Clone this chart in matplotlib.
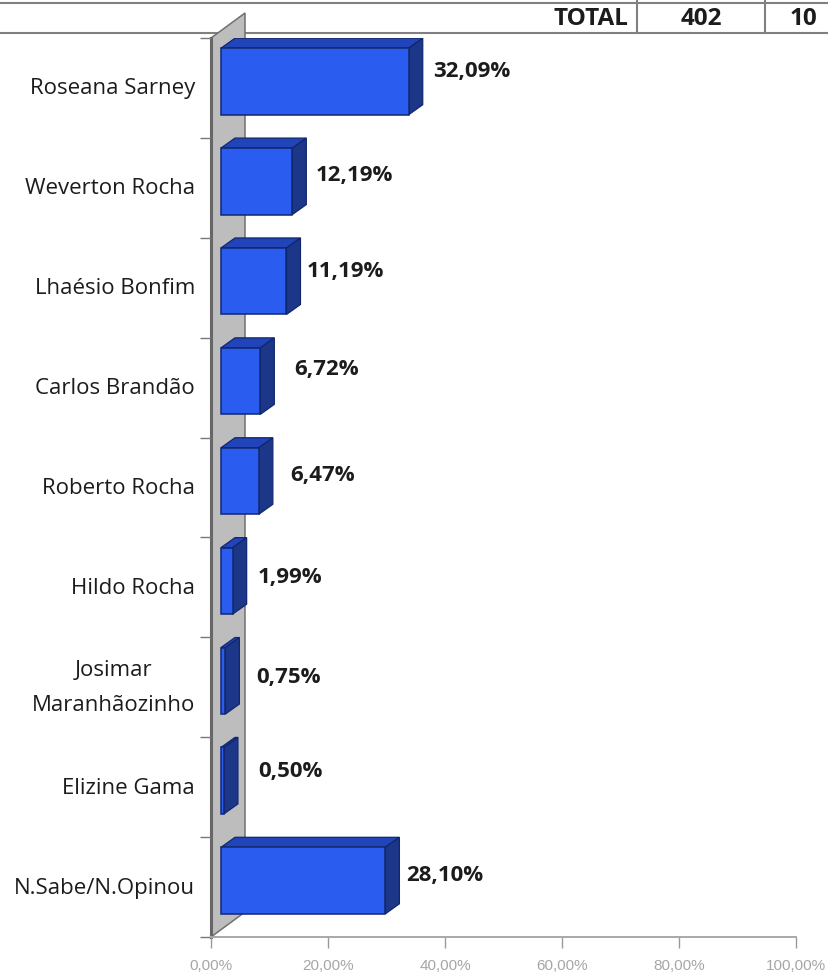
#!/usr/bin/env python3
# horizontal pseudo-3D bars, with the cut off table row on top
import matplotlib
matplotlib.use('Agg')
import matplotlib.pyplot as plt
from matplotlib.patches import Polygon

names = ['Roseana Sarney', 'Weverton Rocha', 'Lhaésio Bonfim', 'Carlos Brandão',
         'Roberto Rocha', 'Hildo Rocha', 'Josimar\nMaranhãozinho', 'Elizine Gama',
         'N.Sabe/N.Opinou']
values = [32.09, 12.19, 11.19, 6.72, 6.47, 1.99, 0.75, 0.50, 28.10]
value_labels = ['32,09%', '12,19%', '11,19%', '6,72%', '6,47%', '1,99%', '0,75%', '0,50%', '28,10%']
x_ticks = [0, 20, 40, 60, 80, 100]
x_tick_labels = ['0,00%', '20,00%', '40,00%', '60,00%', '80,00%', '100,00%']

# hand placed label spots, pixels in the image (left edge, middle)
label_x = [433, 316, 307, 294, 290, 258, 256, 258, 406]
label_y = [71, 175, 272, 369, 475, 578, 677, 771, 876]

W, H = 829, 973
FONT = 'Open Sans'
INK = '#1c1c1c'

fig = plt.figure(figsize=(W / 100, H / 100), dpi=100)

# page layer in pixel units, for table and wall
page = fig.add_axes([0, 0, 1, 1], zorder=1)
page.set_xlim(0, W)
page.set_ylim(H, 0)
page.axis('off')

LEFT, RIGHT, TOP, BOTTOM = 211, 796, 38, 937
ax = fig.add_axes([LEFT / W, 1 - BOTTOM / H, (RIGHT - LEFT) / W, (BOTTOM - TOP) / H], zorder=2)
ax.patch.set_alpha(0)
ax.set_xlim(0, 100)
ax.set_ylim(len(names), 0)

# table rests
for y in (3, 33):
    page.plot([0, W], [y, y], color='#808080', lw=1.5, zorder=1)
for x in (637, 765):
    page.plot([x, x], [0, 33], color='#808080', lw=1.5, zorder=1)
page.text(628, 19, 'TOTAL', ha='right', va='center', fontsize=17.5, fontweight='bold',
          family=FONT, color=INK)
page.text(701, 19, '402', ha='center', va='center', fontsize=17.5, fontweight='bold',
          family=FONT, color=INK)
page.text(790, 19, '10', ha='left', va='center', fontsize=17.5, fontweight='bold',
          family=FONT, color=INK)

# back wall
DX, DY = 34, 25
page.add_patch(Polygon([(LEFT, TOP), (LEFT + DX, TOP - DY), (LEFT + DX, BOTTOM - DY), (LEFT, BOTTOM)],
                       closed=True, facecolor='#bdbdbd', edgecolor='#707070', lw=1.1, zorder=2))
page.plot([LEFT, LEFT], [TOP, BOTTOM], color='#666666', lw=2.2, zorder=3)

# bars
px_x = 100 / (RIGHT - LEFT)
py_y = len(names) / (BOTTOM - TOP)
off_x = 10 * px_x
dep_x = 14 * px_x
dep_y = 10 * py_y
bar_h = 66.5 * py_y
centre_shift = -6.5 * py_y
ypos = [i + 0.5 + centre_shift for i in range(len(names))]
edge = '#10276f'

ax.barh(ypos, values, height=bar_h, left=off_x, color='#2b5cf0', edgecolor=edge, lw=1.1, zorder=4)
for y, v in zip(ypos, values):
    x0 = off_x
    x1 = off_x + v
    yt = y - bar_h / 2
    yb = y + bar_h / 2
    ax.add_patch(Polygon([(x0, yt), (x0 + dep_x, yt - dep_y), (x1 + dep_x, yt - dep_y), (x1, yt)],
                         closed=True, facecolor='#2145b8', edgecolor=edge, lw=0.9, zorder=3))
    ax.add_patch(Polygon([(x1, yt), (x1 + dep_x, yt - dep_y), (x1 + dep_x, yb - dep_y), (x1, yb)],
                         closed=True, facecolor='#1c3688', edgecolor=edge, lw=0.9, zorder=3))

# axes
for s in ('top', 'right', 'left'):
    ax.spines[s].set_visible(False)
ax.spines['bottom'].set_color('#a8a8a8')
ax.spines['bottom'].set_linewidth(1.4)
ax.set_xticks(x_ticks)
ax.set_xticklabels(x_tick_labels, family='Liberation Sans', fontsize=11, color='#a6a6a6')
ax.tick_params(axis='x', length=8, width=1, color='#999999', pad=7.5)
ax.set_yticks(range(len(names) + 1))
ax.set_yticklabels([])
ax.tick_params(axis='y', length=8, width=1, color='#777777')

# category names, right aligned against the wall
for i, n in enumerate(names):
    page.text(195, TOP + 1 + (i + 0.5) / py_y, n, ha='right', va='center', multialignment='center',
              fontsize=16, family=FONT, color=INK, linespacing=1.9)

# value labels
for s, lx, ly in zip(value_labels, label_x, label_y):
    page.text(lx, ly, s, ha='left', va='center', fontsize=16, fontweight='bold',
              family=FONT, color=INK)

fig.savefig('out.png', dpi=100)
